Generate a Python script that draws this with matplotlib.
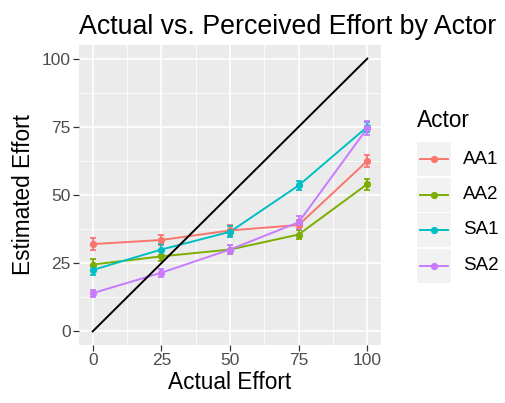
import matplotlib
matplotlib.use("Agg")
import matplotlib.pyplot as plt
from matplotlib.patches import Rectangle
from matplotlib.lines import Line2D
import numpy as np

# Data
actual_effort = [0, 25, 50, 75, 100]
actors = ["AA1", "AA2", "SA1", "SA2"]
colors = ["#F8766D", "#7CAE00", "#00BFC4", "#C77CFF"]
aa1_mean = [32.0, 33.5, 37.0, 39.0, 62.5]
aa1_se = [2.2, 2.0, 2.0, 2.0, 2.3]
aa2_mean = [24.5, 27.5, 30.0, 35.5, 54.0]
aa2_se = [2.0, 1.8, 1.8, 1.8, 2.0]
sa1_mean = [22.5, 30.0, 36.5, 53.5, 75.0]
sa1_se = [1.8, 2.0, 2.0, 1.8, 1.8]
sa2_mean = [14.0, 21.5, 30.0, 40.0, 74.5]
sa2_se = [1.3, 1.5, 1.8, 2.3, 2.5]
means = [aa1_mean, aa2_mean, sa1_mean, sa2_mean]
ses = [aa1_se, aa2_se, sa1_se, sa2_se]
identity = [0, 100]
ticks = [0, 25, 50, 75, 100]

W, H = 505, 403
plt.rcParams["font.family"] = ["Liberation Sans", "DejaVu Sans"]
fig = plt.figure(figsize=(W / 100, H / 100), dpi=100)

px_l, px_r, px_t, px_b = 79, 381, 45, 345
ax = fig.add_axes([px_l / W, 1 - px_b / H, (px_r - px_l) / W, (px_b - px_t) / H])
ax.set_facecolor("#EBEBEB")
ax.set_xlim(-5, 105)
ax.set_ylim(-5, 105)
for s in ax.spines.values():
    s.set_visible(False)

minor = [12.5, 37.5, 62.5, 87.5]
for m in minor:
    ax.axvline(m, color="white", lw=0.6, zorder=0.5)
    ax.axhline(m, color="white", lw=0.6, zorder=0.5)
for t in ticks:
    ax.axvline(t, color="white", lw=1.2, zorder=0.6)
    ax.axhline(t, color="white", lw=1.2, zorder=0.6)

ax.set_xticks(ticks)
ax.set_yticks(ticks)
ax.set_xticklabels([str(t) for t in ticks])
ax.set_yticklabels([str(t) for t in ticks])
ax.tick_params(axis="both", length=4, width=0.9, color="#333333",
               labelcolor="#4D4D4D", labelsize=12.5, pad=2)

for y, e, c in zip(means, ses, colors):
    ax.plot(actual_effort, y, color=c, lw=1.4, zorder=3)
    ax.errorbar(actual_effort, y, yerr=e, fmt="o", color=c, ms=4.2,
                elinewidth=1.3, capsize=2.5, capthick=1.3, zorder=4)

ax.plot(identity, identity, color="black", lw=1.4, zorder=5)

ax.set_xlabel("Actual Effort", fontsize=16.3, labelpad=2)
ax.set_ylabel("Estimated Effort", fontsize=16.3, labelpad=5)
ax.set_title("Actual vs. Perceived Effort by Actor", fontsize=19.3,
             loc="left", pad=8)

# Legend drawn in pixel coordinates
lg = fig.add_axes([0, 0, 1, 1], zorder=-1)
lg.set_xlim(0, W)
lg.set_ylim(H, 0)
lg.axis("off")
lg.text(417, 127, "Actor", fontsize=16.3, ha="left", va="baseline")
key_x, key_w, key_h, key_step, key_top = 417, 34, 34, 35.5, 142
for i, (name, c) in enumerate(zip(actors, colors)):
    y0 = key_top + i * key_step
    lg.add_patch(Rectangle((key_x, y0), key_w, key_h, facecolor="#F2F2F2",
                           edgecolor="none"))
    yc = y0 + key_h / 2
    lg.add_line(Line2D([key_x + 3, key_x + key_w - 3], [yc, yc], color=c,
                       lw=1.4))
    lg.plot([key_x + key_w / 2], [yc], "o", color=c, ms=4.2)
    lg.text(463, yc, name, fontsize=13.5, ha="left", va="center")

fig.savefig("out.png", dpi=100)
